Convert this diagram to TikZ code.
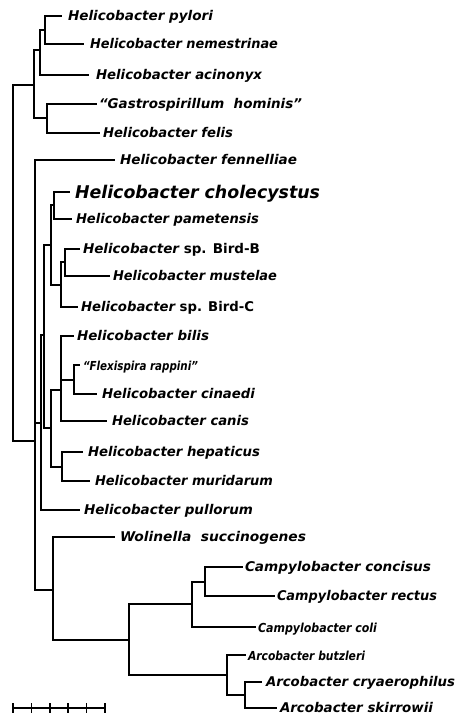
\documentclass[tikz,border=0pt]{standalone}
\usepackage{fontspec}
\usepackage{graphicx}
\setmainfont{DejaVu Sans}
\tikzset{
  br/.style={line width=2.1bp, line join=miter},
  thinbr/.style={line width=1.4bp, line join=miter},
  lab/.style={anchor=base west, inner sep=0pt, outer sep=0pt, yshift=-4.8bp,
    font=\fontsize{13.4bp}{15bp}\selectfont\bfseries\itshape},
  narrowlab/.style={lab, yshift=-0.3bp, font=\fontsize{12.4bp}{14bp}\selectfont\bfseries\itshape},
  biglab/.style={anchor=base west, inner sep=0pt, outer sep=0pt, yshift=-6.2bp,
    font=\fontsize{17.5bp}{20bp}\selectfont\bfseries\itshape},
}
% name, line end x, text x, y, width, text
\newcommand\leaf[6]{%
  \coordinate (#1) at (#2,#4);
  \node[lab] (#1-t) at (#3,#4) {\resizebox{#5bp}{\height}{#6}};}
\newcommand\nleaf[6]{%
  \coordinate (#1) at (#2,#4);
  \node[narrowlab] (#1-t) at (#3,#4) {\resizebox{#5bp}{\height}{#6}};}
\begin{document}
\begin{tikzpicture}[x=1bp,y=-1bp]
\fill[white] (0,0) rectangle (456,719);
\useasboundingbox (0,0) rectangle (456,719);

% leaves
\leaf{pyl}{62}{68}{16}{145}{Helicobacter pylori}
\leaf{nem}{84}{90}{44}{188}{Helicobacter nemestrinae}
\leaf{aci}{89}{96}{75}{166}{Helicobacter acinonyx}
\leaf{gas}{97}{99}{104}{203}{“Gastrospirillum\ \ hominis”}
\leaf{fel}{100}{103}{133}{130}{Helicobacter felis}
\leaf{fen}{115}{120}{160}{177}{Helicobacter fennelliae}
\coordinate (cho) at (70,192);
\node[biglab] (cho-t) at (75,192) {\resizebox{245bp}{\height}{Helicobacter cholecystus}};
\leaf{pam}{72}{76}{219}{183}{Helicobacter pametensis}
\leaf{bdb}{80}{83}{249}{177}{Helicobacter {\upshape sp. Bird-B}}
\leaf{mus}{110}{113}{276}{164}{Helicobacter mustelae}
\leaf{bdc}{78}{81}{307}{173}{Helicobacter {\upshape sp. Bird-C}}
\leaf{bil}{74}{77}{336}{132}{Helicobacter bilis}
\nleaf{fle}{80}{83}{365}{115}{“Flexispira\ rappini”}
\leaf{cin}{97}{102}{394}{153}{Helicobacter cinaedi}
\leaf{can}{107}{112}{421}{137}{Helicobacter canis}
\leaf{hep}{83}{88}{452}{172}{Helicobacter hepaticus}
\leaf{mur}{90}{95}{481}{178}{Helicobacter muridarum}
\leaf{pul}{80}{84}{510}{169}{Helicobacter pullorum}
\leaf{wol}{115}{120}{537}{186}{Wolinella\ \ succinogenes}
\leaf{con}{243}{245}{567}{186}{Campylobacter concisus}
\leaf{rec}{275}{277}{596}{160}{Campylobacter rectus}
\nleaf{col}{256}{258}{627}{119}{Campylobacter coli}
\nleaf{but}{246}{248}{655}{117}{Arcobacter butzleri}
\leaf{cry}{262}{266}{682}{189}{Arcobacter cryaerophilus}
\leaf{ski}{277}{280}{708}{153}{Arcobacter skirrowii}

% internal nodes
\coordinate (root) at (13,263);
\coordinate (top) at (34,85);
\coordinate (pa) at (40,50);
\coordinate (pn) at (45,30);
\coordinate (gf) at (47,118);
\coordinate (mid) at (35,441);
\coordinate (core) at (41,423);
\coordinate (q) at (44,335);
\coordinate (b1) at (51,245);
\coordinate (cp) at (54,205);
\coordinate (bb) at (61,285);
\coordinate (bm) at (65,262);
\coordinate (b2) at (51,428);
\coordinate (bc) at (61,390);
\coordinate (fc) at (74,380);
\coordinate (hm) at (62,467);
\coordinate (out) at (53,590);
\coordinate (ca) at (129,640);
\coordinate (cc) at (192,604);
\coordinate (cr) at (205,582);
\coordinate (ar) at (227,675);
\coordinate (cs) at (245,695);

% branches
\draw[br] (root) |- (top);
\draw[br] (root) |- (mid);
\draw[br] (top) |- (pa);
\draw[br] (top) |- (gf);
\draw[br] (pa) |- (pn);
\draw[br] (pa) |- (aci);
\draw[br] (pn) |- (pyl);
\draw[br] (pn) |- (nem);
\draw[br] (gf) |- (gas);
\draw[br] (gf) |- (fel);
\draw[br] (mid) |- (fen);
\draw[br] (mid) |- (core);
\draw[br] (mid) |- (out);
\draw[br] (core) |- (q);
\draw[br] (core) |- (pul);
\draw[br] (q) |- (b1);
\draw[br] (q) |- (b2);
\draw[br] (b1) |- (cp);
\draw[br] (b1) |- (bb);
\draw[br] (cp) |- (cho);
\draw[br] (cp) |- (pam);
\draw[br] (bb) |- (bm);
\draw[br] (bb) |- (bdc);
\draw[br] (bm) |- (bdb);
\draw[br] (bm) |- (mus);
\draw[br] (b2) |- (bc);
\draw[br] (b2) |- (hm);
\draw[br] (bc) |- (bil);
\draw[br] (bc) |- (fc);
\draw[thinbr] (bc) |- (can);
\draw[br] (fc) |- (fle);
\draw[br] (fc) |- (cin);
\draw[br] (hm) |- (hep);
\draw[br] (hm) |- (mur);
\draw[br] (out) |- (wol);
\draw[br] (out) |- (ca);
\draw[br] (ca) |- (cc);
\draw[br] (ca) |- (ar);
\draw[br] (cc) |- (cr);
\draw[thinbr] (cc) |- (col);
\draw[br] (cr) |- (con);
\draw[br] (cr) |- (rec);
\draw[br] (ar) |- (but);
\draw[br] (ar) |- (cs);
\draw[br] (cs) |- (cry);
\draw[br] (cs) |- (ski);

% scale bar
\draw[line width=1.5bp] (13,708) -- (105,708);
\foreach \t in {13,31.4,49.8,68.2,86.6,105}
  \draw[line width=1.5bp] (\t,703) -- (\t,713);
\end{tikzpicture}
\end{document}
